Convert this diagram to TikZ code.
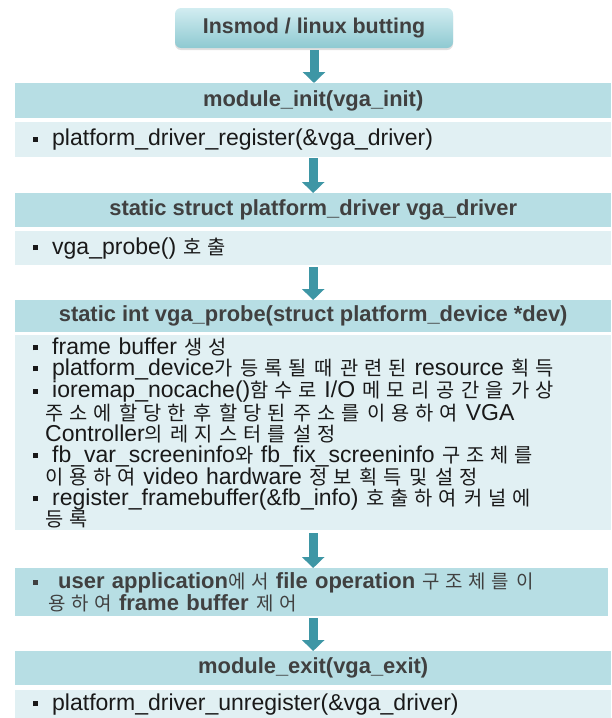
\documentclass[tikz,border=0pt]{standalone}
\usepackage{fontspec}
\setmainfont{Liberation Sans}
\newfontfamily\kr[Scale=0.86,LetterSpace=30]{Noto Sans CJK KR}
\usetikzlibrary{arrows.meta,shadows}
\definecolor{hdr}{RGB}{183,222,228}
\definecolor{bdy}{RGB}{225,240,243}
\definecolor{arr}{RGB}{62,150,165}
\definecolor{topA}{RGB}{210,237,241}
\definecolor{topB}{RGB}{142,201,209}
\definecolor{htxt}{RGB}{64,64,64}
\definecolor{btxt}{RGB}{25,25,25}
\newcommand\K[1]{{\kr\mdseries #1}}
\newcommand\bul{\makebox[19pt][l]{\rule[4pt]{5pt}{5pt}}}
\newcommand\ind{\hspace*{12pt}}
\begin{document}
\begin{tikzpicture}[x=1pt,y=-1pt,
  topbox/.style={rounded corners=6pt, minimum width=278pt, minimum height=40pt,
    top color=topA, bottom color=topB, draw=none,
    drop shadow={opacity=0.25, shadow xshift=0pt, shadow yshift=-2pt},
    font=\fontsize{21.4}{24}\selectfont\bfseries, text=htxt},
  hdrband/.style={fill=hdr, draw=none, minimum width=596pt, inner sep=0pt,
    anchor=north west, font=\fontsize{21.9}{24}\selectfont\bfseries, text=htxt},
  bodyband/.style={fill=bdy, draw=none, anchor=north west, minimum width=596pt,
    text width=560pt, inner xsep=18pt, inner ysep=0pt, align=left,
    font=\fontsize{23}{21}\selectfont, text=btxt},
  userband/.style={fill=hdr, draw=none, anchor=north west, minimum width=593pt,
    text width=557pt, inner xsep=18pt, inner ysep=0pt, align=left,
    font=\fontsize{22}{21.5}\selectfont\bfseries, text=htxt},
  flow/.style={draw=arr, line width=9pt, -{Triangle[width=22pt,length=11pt]}}
]
\useasboundingbox (0,0) rectangle (611,718);

\node[topbox] (top) at (314,28) {Insmod / linux butting};

\node[hdrband, minimum height=35pt] (h1) at (15,83) {module\_init(vga\_init)};
\node[bodyband, minimum height=35pt] (b1) at (15,122) {\bul platform\_driver\_register(\&vga\_driver)};

\node[hdrband, minimum height=34pt] (h2) at (15,193) {static struct platform\_driver vga\_driver};
\node[bodyband, minimum height=34pt] (b2) at (15,231) {\bul vga\_probe() \K{호출}};

\node[hdrband, minimum height=32pt] (h3) at (15,300) {static int vga\_probe(struct platform\_device *dev)};
\node[bodyband, minimum height=195pt] (b3) at (15,335) {%
\bul frame buffer \K{생성}\\
\bul platform\_device\K{가 등록될 때 관련된} resource \K{획득}\\
\bul ioremap\_nocache()\K{함수로} I/O \K{메모리 공간을 가상}\\
\ind\K{주소에 할당한 후 할당된 주소를 이용하여} VGA\\
\ind Controller\K{의 레지스터를 설정}\\
\bul fb\_var\_screeninfo\K{와} fb\_fix\_screeninfo \K{구조체를}\\
\ind\K{이용하여} video hardware \K{정보 획득 및 설정}\\
\bul register\_framebuffer(\&fb\_info) \K{호출하여 커널에}\\
\ind\K{등록}};

\node[userband, minimum height=48pt] (u) at (15,568) {%
\bul\hspace{6pt}user application\K{에서} file operation \K{구조체를 이}\\
\hspace*{15pt}\K{용하여} frame buffer \K{제어}};

\node[hdrband, minimum height=34pt] (h5) at (15,651) {module\_exit(vga\_exit)};
\node[bodyband, minimum height=28pt] (b5) at (15,690) {\bul platform\_driver\_unregister(\&vga\_driver)};

\draw[flow, shorten <=2pt] (top.south) -- (top.south |- h1.north);
\draw[flow, shorten <=1pt] (b1.south) -- (h2.north);
\draw[flow, shorten <=2pt] (b2.south) -- (h3.north);
\draw[flow, shorten <=3pt] (b3.south) -- (u.north -| b3.south);
\draw[flow, shorten <=2pt] (u.south -| b3.south) -- (h5.north);
\end{tikzpicture}
\end{document}
